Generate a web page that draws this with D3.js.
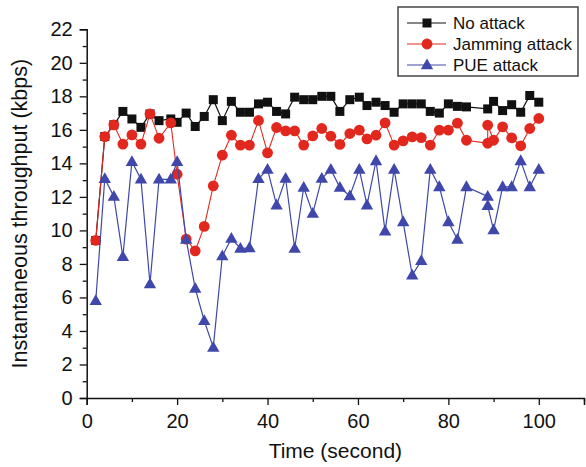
<!DOCTYPE html>
<html>
<head>
<meta charset="utf-8">
<script src="https://cdn.jsdelivr.net/npm/d3@7"></script>
<style>
  html,body{margin:0;padding:0;background:#fff;}
  svg{display:block;font-family:"Liberation Sans",Arial,Helvetica,sans-serif;}
</style>
</head>
<body>
<svg id="chart" width="586" height="467"></svg>
<script>
/* data */
var seriesNames=['No attack','Jamming attack','PUE attack'];

var tNo=[2,4,6,8,10,12,14,16,18.6,20,22,24,26,28,30,32,34,36,38,40,42,44,46,48,50,52,54,56,58.2,60.3,62,64,66,68,70,72,74,76,78,80,82,84,88.7,90,92,94,96,98,100];
var vNo=[9.4,15.6,16.3,17.1,16.65,16.15,16.95,16.55,16.65,16.45,17.0,16.2,16.8,17.8,16.55,17.7,17.05,17.05,17.55,17.65,17.1,16.95,17.95,17.8,17.8,18.0,18.0,17.1,17.8,17.95,17.45,17.65,17.45,17.05,17.55,17.55,17.55,17.1,17.0,17.55,17.4,17.37,17.25,17.7,17.15,17.5,17.05,18.05,17.65];

var tJam=[2,4,6,8,10,12,14,16,18.6,20,22,24,26,28,30,32,34,36,38,40,42,44,46,48,50,52,54,56,58.2,60.3,62,64,66,68,70,72,74,76,78,80,82,84,88.7,88.7,90,92,94,96,98,100];
var vJam=[9.4,15.6,16.3,15.15,15.7,15.15,16.95,15.5,16.42,13.35,9.48,8.78,10.24,12.66,14.49,15.68,15.09,15.09,16.56,14.63,16.14,15.94,15.94,15.09,15.64,16.08,15.62,15.13,15.78,15.98,15.46,15.68,16.42,15.09,15.34,15.58,15.54,15.09,15.98,15.98,16.4,15.38,15.2,16.28,15.38,16.18,15.52,15.05,16.08,16.68];

var tPue=[2,4,6,8,10,12,14,16,18.6,20,22,24,26,28,30,32,34,36,38,40,42,44,46,48,50,52,54,56,58.2,60.3,62,64,66,68,70,72,74,76,78,80,82,84,88.7,88.7,90,92,94,96,98,100];
var vPue=[5.8,13.08,12.03,8.43,14.1,13.05,6.8,13.05,13.05,14.1,9.46,6.54,4.61,3.02,8.47,9.52,8.92,8.96,13.08,13.64,11.51,13.1,8.92,12.56,11.01,13.1,13.64,12.56,12.05,13.64,11.51,14.15,9.96,13.64,10.51,7.33,8.19,13.64,12.6,10.51,9.46,12.6,12.03,11.47,10.02,12.6,12.6,14.15,12.6,13.64];

var xTicks=[0,20,40,60,80,100];
var yTicks=[0,2,4,6,8,10,12,14,16,18,20,22];

var ML=86.7, MT=29.3, W=584-86.7, H=398-29.3;
var svg=d3.select('#chart');
var g=svg.append('g').attr('transform','translate('+ML+','+MT+')');

var x=d3.scaleLinear().domain([0,110]).range([0,W]);
var y=d3.scaleLinear().domain([0,22]).range([H,0]);

/* axes: major ticks labelled, minor ticks between */
g.append('g').attr('transform','translate(0,'+H+')')
  .call(d3.axisBottom(x).tickValues(xTicks).tickSize(7).tickPadding(9).tickFormat(d3.format('d')));
g.append('g').attr('transform','translate(0,'+H+')')
  .call(d3.axisBottom(x).tickValues([10,30,50,70,90,110]).tickSize(4).tickFormat(''))
  .select('.domain').remove();
g.append('g')
  .call(d3.axisLeft(y).tickValues(yTicks).tickSize(7).tickPadding(7).tickFormat(d3.format('d')));
g.append('g')
  .call(d3.axisLeft(y).tickValues(d3.range(1,22,2)).tickSize(4).tickFormat(''))
  .select('.domain').remove();

g.selectAll('.domain').attr('stroke','#111').attr('stroke-width',1.5);
g.selectAll('.tick line').attr('stroke','#111').attr('stroke-width',1.3);
g.selectAll('.tick text').attr('fill','#111').attr('font-size','20px')
  .attr('font-family','"Liberation Sans",Arial,sans-serif');

/* axis titles */
svg.append('text').attr('x',ML+x(55)).attr('y',458)
  .attr('text-anchor','middle').attr('font-size','21px').attr('fill','#111')
  .text('Time (second)');
svg.append('text').attr('transform','translate(27,'+(MT+H/2)+') rotate(-90)')
  .attr('text-anchor','middle').attr('font-size','21.5px').attr('fill','#111')
  .text('Instantaneous throughput (kbps)');

/* series */
var cols={no:'#111111',jam:'#e2281e',pue:'#3f48aa'};
var line=d3.line().x(function(d){return x(d[0])}).y(function(d){return y(d[1])});

function zipPts(ts,vs){return ts.map(function(t,i){return [t,vs[i]]});}
var pNo=zipPts(tNo,vNo), pJam=zipPts(tJam,vJam), pPue=zipPts(tPue,vPue);

var triPath='M0,-6.5 L6.2,4.3 L-6.2,4.3 Z';

function drawMarker(sel,type,col){
  if(type==='sq') sel.append('rect').attr('x',-4.5).attr('y',-4.5).attr('width',9).attr('height',9).attr('fill',col);
  else if(type==='ci') sel.append('circle').attr('r',5.4).attr('fill',col);
  else sel.append('path').attr('d',triPath).attr('fill',col);
}

function drawSeries(pts,col,type,lw){
  g.append('path').datum(pts).attr('d',line).attr('fill','none')
    .attr('stroke',col).attr('stroke-width',lw);
  pts.forEach(function(p){
    var m=g.append('g').attr('transform','translate('+x(p[0])+','+y(p[1])+')');
    drawMarker(m,type,col);
  });
}
drawSeries(pNo,cols.no,'sq',1.2);
drawSeries(pJam,cols.jam,'ci',1.1);
drawSeries(pPue,cols.pue,'tr',1.2);

/* legend */
var lg=svg.append('g').attr('transform','translate(398,7)');
lg.append('rect').attr('width',180).attr('height',69).attr('fill','#fff')
  .attr('stroke','#444').attr('stroke-width',1.5);
var lgItems=[{n:seriesNames[0],c:cols.no,t:'sq'},{n:seriesNames[1],c:cols.jam,t:'ci'},{n:seriesNames[2],c:cols.pue,t:'tr'}];
lgItems.forEach(function(it,i){
  var row=lg.append('g').attr('transform','translate(0,'+(16+i*21)+')');
  row.append('line').attr('x1',9).attr('x2',48).attr('stroke',it.c).attr('stroke-width',1.2);
  var m=row.append('g').attr('transform','translate(29,0)');
  drawMarker(m,it.t,it.c);
  row.append('text').attr('x',55).attr('y',6).attr('font-size','17px').attr('fill','#111').text(it.n);
});
</script>
</body>
</html>
